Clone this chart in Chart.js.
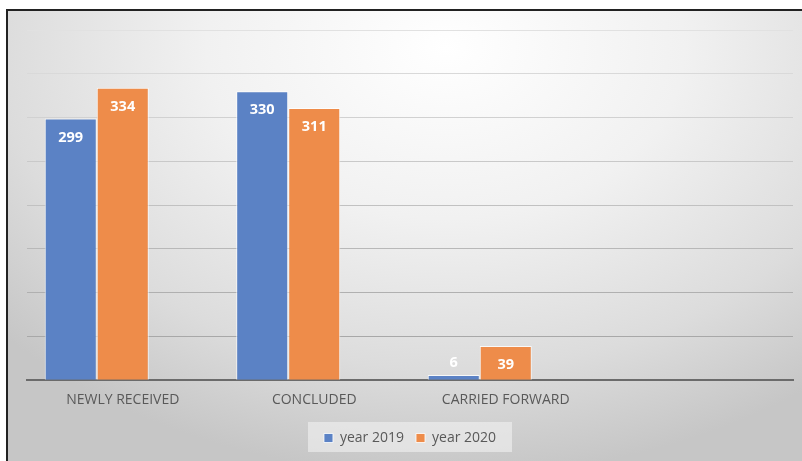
<!DOCTYPE html>
<html>
<head>
<meta charset="utf-8">
<script src="https://cdn.jsdelivr.net/npm/chart.js@4/dist/chart.umd.min.js"></script>
<style>
  html, body { margin: 0; padding: 0; background: #fff; }
  #wrap {
    position: absolute; left: 6px; top: 9px; width: 796px; height: 452px;
    border-left: 2px solid #222; border-top: 2px solid #222;
    background: radial-gradient(ellipse 75% 95% at 55% 8%, #ffffff 0%, #f1f1f1 40%, #dcdcdc 75%, #c6c6c6 100%);
  }
  #chartCanvas { position: absolute; left: 0; top: 0; }
</style>
</head>
<body>
<div id="wrap"></div>
<canvas id="chartCanvas" width="802" height="461"></canvas>
<script>
const categories = ["NEWLY RECEIVED", "CONCLUDED", "CARRIED FORWARD", ""];
const year2019 = [299, 330, 6, null];
const year2020 = [334, 311, 39, null];
// empty third series that the original chart reserves space for
const emptySeries = [null, null, null, null];
const seriesNames = ["year 2019", "year 2020", ""];

const FONT = "'Open Sans', 'Liberation Sans', sans-serif";

// white value labels near the top of each bar, above the bar when it is too short
const valueLabels = {
  id: "valueLabels",
  afterDatasetsDraw(chart) {
    const ctx = chart.ctx;
    ctx.save();
    ctx.font = "bold 14.5px " + FONT;
    ctx.fillStyle = "#ffffff";
    ctx.textAlign = "center";
    ctx.textBaseline = "middle";
    chart.data.datasets.forEach((ds, i) => {
      chart.getDatasetMeta(i).data.forEach((bar, j) => {
        const v = ds.data[j];
        if (v === null || v === undefined) return;
        const h = bar.base - bar.y;
        const y = h < 25 ? bar.y - 12 : bar.y + 19;
        ctx.fillText(String(v), bar.x, y);
      });
    });
    ctx.restore();
  }
};

// soft box behind the legend
const legendBox = {
  id: "legendBox",
  beforeDraw(chart) {
    const lg = chart.legend;
    if (!lg) return;
    const ctx = chart.ctx;
    const w = 204, h = 30;
    const cx = lg.left + lg.width / 2;
    ctx.save();
    ctx.fillStyle = "rgba(242,242,242,0.6)";
    ctx.fillRect(cx - w / 2, lg.top + lg.height / 2 - h / 2, w, h);
    ctx.restore();
  }
};

const ctx = document.getElementById("chartCanvas").getContext("2d");
new Chart(ctx, {
  type: "bar",
  data: {
    labels: categories,
    datasets: [{
      label: seriesNames[0],
      data: year2019,
      backgroundColor: "#5b82c5",
      borderColor: "rgba(255,255,255,0.8)",
      borderWidth: 1
    }, {
      label: seriesNames[1],
      data: year2020,
      backgroundColor: "#ee8c4a",
      borderColor: "rgba(255,255,255,0.8)",
      borderWidth: 1
    }, {
      label: seriesNames[2],
      data: emptySeries,
      backgroundColor: "rgba(0,0,0,0)"
    }]
  },
  options: {
    responsive: false,
    animation: false,
    layout: { padding: { left: 27, right: 9, top: 30, bottom: 6 } },
    datasets: { bar: { categoryPercentage: 0.815, barPercentage: 1 } },
    scales: {
      x: {
        grid: { display: false, drawTicks: false },
        border: { display: true, color: "#6b6b6b", width: 2 },
        ticks: { color: "#595959", font: { family: FONT, size: 14 }, padding: 11, maxRotation: 0 }
      },
      y: {
        min: 0, max: 400,
        ticks: { display: false, stepSize: 50 },
        border: { display: false },
        grid: {
          drawTicks: false,
          color: (c) => {
            const t = c.tick ? c.tick.value / 400 : 0;
            const g = Math.round(160 + 65 * t);
            return "rgb(" + g + "," + g + "," + g + ")";
          },
          lineWidth: 1
        }
      }
    },
    plugins: {
      legend: {
        position: "bottom",
        labels: {
          color: "#595959",
          font: { family: FONT, size: 14 },
          boxWidth: 9, boxHeight: 9,
          padding: 12,
          filter: (item) => item.text !== ""
        }
      },
      tooltip: { enabled: false }
    }
  },
  plugins: [legendBox, valueLabels]
});
</script>
</body>
</html>
